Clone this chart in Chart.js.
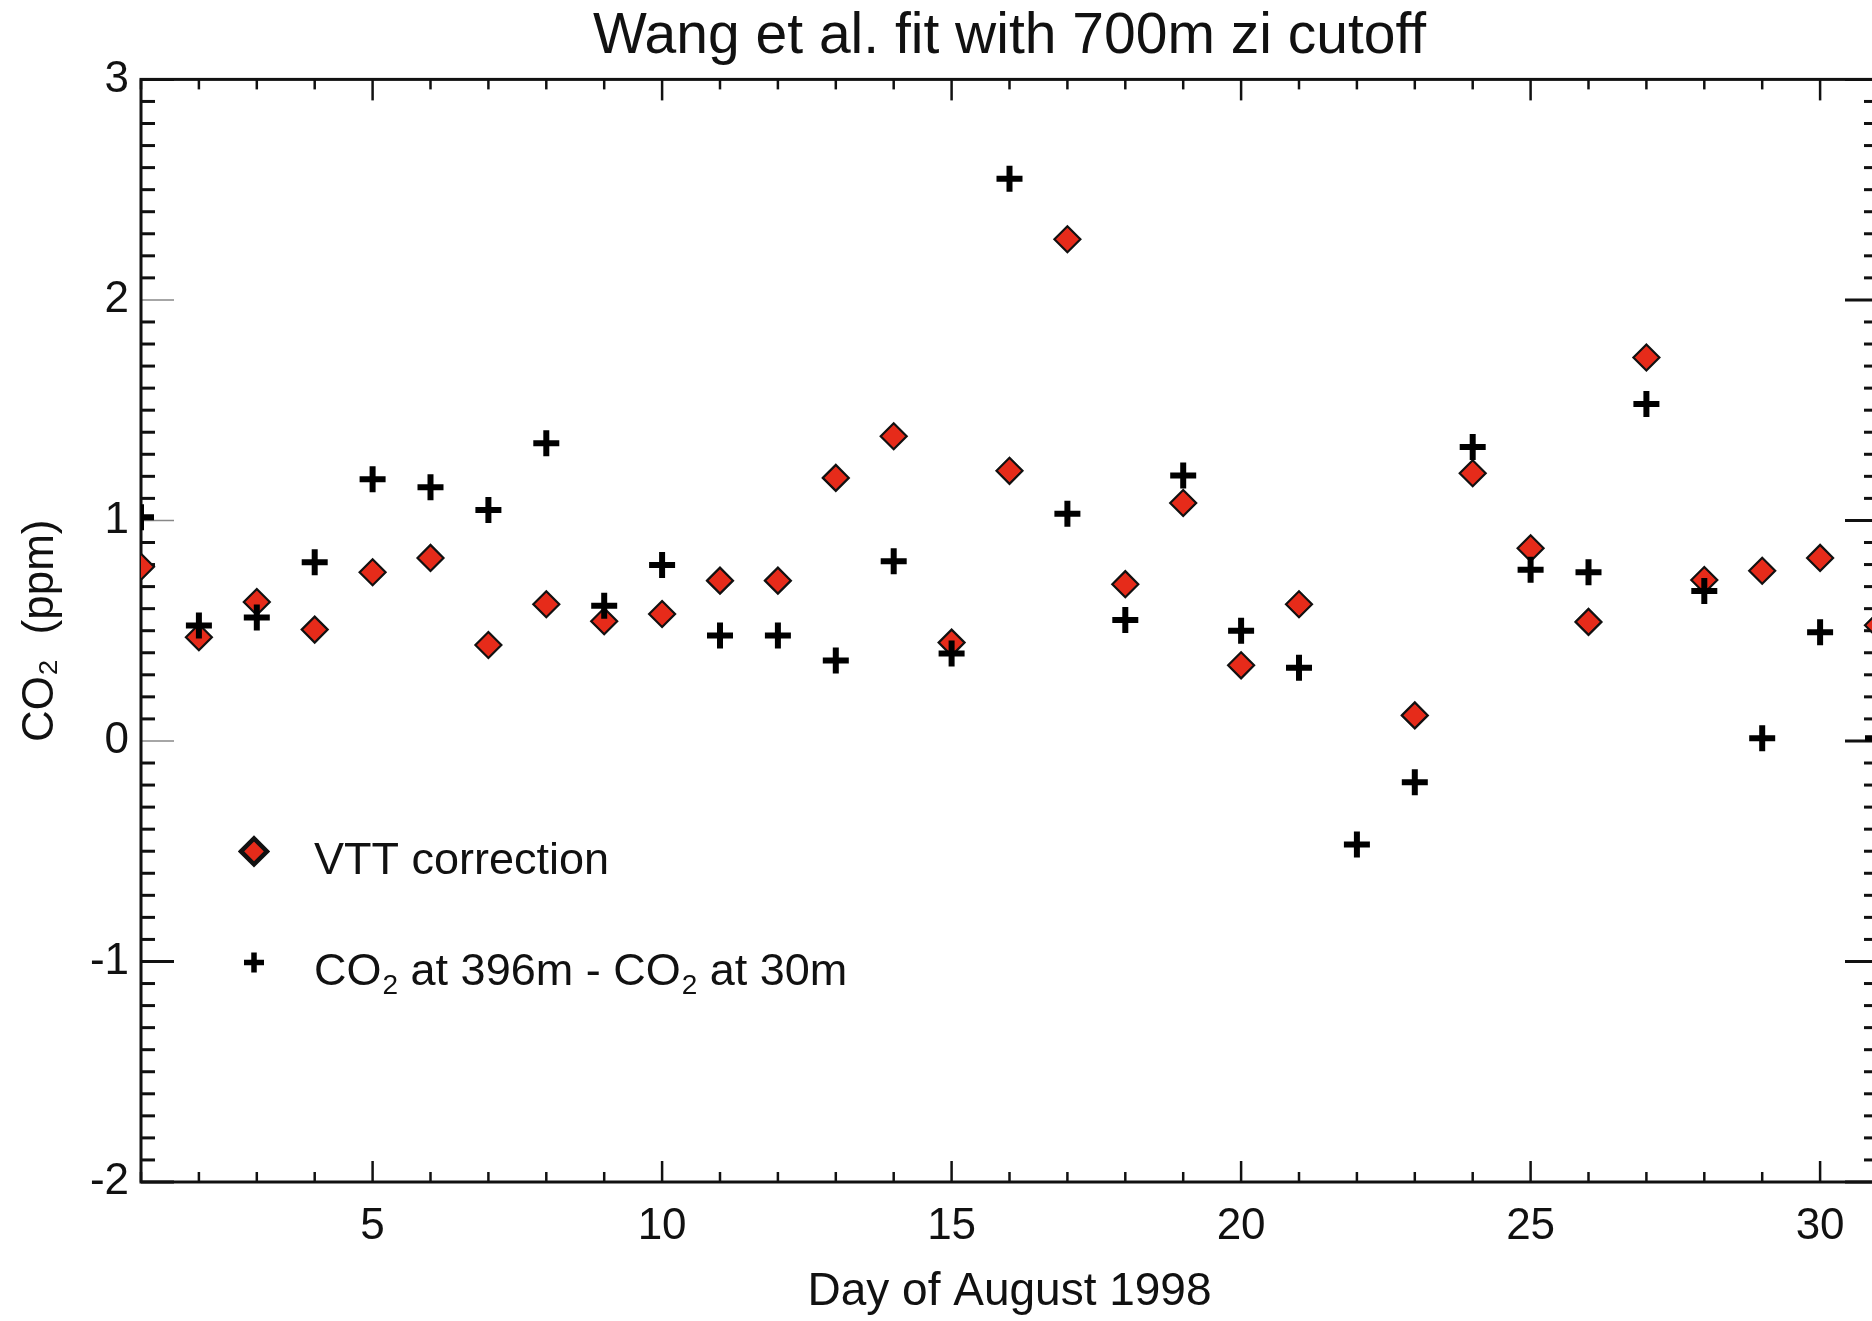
<!DOCTYPE html>
<html>
<head>
<meta charset="utf-8">
<script src="https://cdn.jsdelivr.net/npm/chart.js@4/dist/chart.umd.min.js"></script>
<style>
  html, body { margin: 0; padding: 0; background: #fff; overflow: hidden; }
  #wrap { width: 1900px; height: 1321px; position: relative; }
</style>
</head>
<body>
<div id="wrap"><canvas id="c" width="1900" height="1321"></canvas></div>
<script>
// ---------- data ----------
const days = [1,2,3,4,5,6,7,8,9,10,11,12,13,14,15,16,17,18,19,20,21,22,23,24,25,26,27,28,29,30,31];
const vttCorrection = [0.79,0.47,0.63,0.505,0.765,0.83,0.435,0.62,0.543,0.576,0.727,0.727,1.193,1.382,0.446,1.225,2.275,0.711,1.079,0.343,0.62,null,0.116,1.214,0.874,0.54,1.739,0.73,0.772,0.83,0.525];
const co2Difference = [1.014,0.524,0.56,0.81,1.187,1.15,1.047,1.35,0.613,0.798,0.478,0.478,0.365,0.815,0.397,2.55,1.03,0.549,1.204,0.5,0.332,-0.47,-0.187,1.333,0.776,0.765,1.528,0.68,0.012,0.493,0.012];
const xTickValues = [5,10,15,20,25,30];
const yTickValues = [-2,-1,0,1,2,3];
const xMin = 1, xMax = 31, yMin = -2, yMax = 3;
const titleText = 'Wang et al. fit with 700m zi cutoff';
const xTitleText = 'Day of August 1998';
const yTitleText = 'CO\u2082  (ppm)';
const seriesNames = ['VTT correction', 'CO\u2082 at 396m - CO\u2082 at 30m'];

// ---------- styles ----------
const FONT = '"Liberation Sans", Arial, Helvetica, sans-serif';
const INK = '#111';
const RED = '#e62b1a';

function drawDiamond(ctx, x, y, r, fill, stroke, lw) {
  ctx.beginPath();
  ctx.moveTo(x - r, y); ctx.lineTo(x, y - r); ctx.lineTo(x + r, y); ctx.lineTo(x, y + r);
  ctx.closePath();
  ctx.fillStyle = fill; ctx.fill();
  ctx.lineWidth = lw; ctx.strokeStyle = stroke; ctx.stroke();
}
function drawPlus(ctx, x, y, r, color, lw) {
  ctx.beginPath();
  ctx.moveTo(x - r, y); ctx.lineTo(x + r, y);
  ctx.moveTo(x, y - r); ctx.lineTo(x, y + r);
  ctx.lineWidth = lw; ctx.strokeStyle = color; ctx.lineCap = 'butt'; ctx.stroke();
}
// draws text, rendering '₂' as a real lowered small "2"
function drawSubText(ctx, text, x, yMid, size) {
  const base = yMid + size * 0.358;
  ctx.textBaseline = 'alphabetic';
  ctx.textAlign = 'left';
  ctx.fillStyle = INK;
  const parts = text.split('\u2082');
  parts.forEach((p, i) => {
    ctx.font = size + 'px ' + FONT;
    ctx.fillText(p, x, base);
    x += ctx.measureText(p).width;
    if (i < parts.length - 1) {
      ctx.font = Math.round(size * 0.62) + 'px ' + FONT;
      ctx.fillText('2', x + 1, base + size * 0.2);
      x += ctx.measureText('2').width + 1;
    }
  });
}

const frameAndTicks = {
  id: 'frameAndTicks',
  beforeDatasetsDraw(chart) {
    const { ctx, chartArea: a, scales: { x, y } } = chart;
    ctx.save();
    ctx.lineCap = 'butt';
    const seg = (x1, y1, x2, y2, w, c) => {
      ctx.beginPath(); ctx.moveTo(x1, y1); ctx.lineTo(x2, y2);
      ctx.lineWidth = w; ctx.strokeStyle = c; ctx.stroke();
    };
    // x ticks (every day, major every 5), inward on bottom and top
    for (let d = Math.ceil(x.min); d <= x.max; d++) {
      const px = x.getPixelForValue(d);
      const len = d % 5 === 0 ? 21 : 10;
      seg(px, a.bottom, px, a.bottom - len, 2.5, INK);
      seg(px, a.top, px, a.top + len, 2.5, INK);
    }
    // y ticks (minor every 0.1, major every 1), inward on left and right
    for (let i = Math.round(y.min * 10); i <= Math.round(y.max * 10); i++) {
      const py = y.getPixelForValue(i / 10);
      const major = i % 10 === 0;
      const len = major ? 33 : 14;
      const thinLeft = major && i >= 0 && i <= 20;
      seg(a.left, py, a.left + len, py, thinLeft ? 1.5 : 3, thinLeft ? '#888' : INK);
      seg(a.right, py, a.right - len, py, 3, INK);
    }
    ctx.lineWidth = 3; ctx.strokeStyle = INK;
    ctx.strokeRect(a.left, a.top, a.right - a.left, a.bottom - a.top);
    ctx.restore();
  }
};

const legendBox = {
  id: 'legendBox',
  afterDatasetsDraw(chart) {
    const { ctx, chartArea: a } = chart;
    ctx.save();
    const mx = a.left + 113;
    const row1 = a.top + 772, row2 = a.top + 883;
    drawDiamond(ctx, mx, row1, 13, RED, INK, 4.5);
    drawSubText(ctx, seriesNames[0], a.left + 173, row1 + 6, 45);
    drawPlus(ctx, mx, row2, 10, '#000', 5.5);
    drawSubText(ctx, seriesNames[1], a.left + 173, row2 + 6, 45);
    ctx.restore();
  }
};

const toPoints = vals => days.map((d, i) => ({ x: d, y: vals[i] }));

new Chart(document.getElementById('c'), {
  type: 'scatter',
  data: {
    datasets: [
      {
        label: seriesNames[0],
        data: toPoints(vttCorrection),
        order: 2,
        clip: 0,
        pointStyle: 'rectRot',
        pointRadius: 13,
        pointBackgroundColor: RED,
        pointBorderColor: INK,
        pointBorderWidth: 2.2,
        showLine: false
      },
      {
        label: seriesNames[1],
        data: toPoints(co2Difference),
        order: 1,
        clip: 0,
        pointStyle: 'cross',
        pointRadius: 13,
        pointBorderColor: '#000',
        pointBackgroundColor: '#000',
        pointBorderWidth: 6,
        showLine: false
      }
    ]
  },
  options: {
    responsive: false,
    devicePixelRatio: 1,
    animation: false,
    events: [],
    layout: { padding: { left: 0, right: 22, top: 0, bottom: 0 } },
    plugins: {
      legend: { display: false },
      tooltip: { enabled: false },
      title: {
        display: true,
        text: titleText,
        fullSize: false,
        color: INK,
        font: { family: FONT, size: 57, weight: 'normal', lineHeight: 1.2 },
        padding: { top: 3, bottom: 8 }
      }
    },
    scales: {
      x: {
        type: 'linear',
        position: 'bottom',
        min: xMin,
        max: xMax,
        afterBuildTicks: s => { s.ticks = xTickValues.map(v => ({ value: v })); },
        afterFit: s => { s.height = 139; },
        grid: { display: false, drawTicks: false },
        border: { display: false },
        ticks: { color: INK, font: { family: FONT, size: 44 }, padding: 18, maxRotation: 0, autoSkip: false },
        title: { display: true, text: xTitleText, color: INK, font: { family: FONT, size: 46, lineHeight: 1.0 }, padding: { top: 0, bottom: 6 } }
      },
      y: {
        type: 'linear',
        position: 'left',
        min: yMin,
        max: yMax,
        afterBuildTicks: s => { s.ticks = yTickValues.map(v => ({ value: v })); },
        afterFit: s => { s.width = 141; },
        grid: { display: false, drawTicks: false },
        border: { display: false },
        ticks: { color: INK, font: { family: FONT, size: 44 }, padding: 12, autoSkip: false },
        title: { display: true, text: yTitleText, color: INK, font: { family: FONT, size: 44 }, padding: { top: 14, bottom: 0 } }
      }
    }
  },
  plugins: [frameAndTicks, legendBox]
});
</script>
</body>
</html>
